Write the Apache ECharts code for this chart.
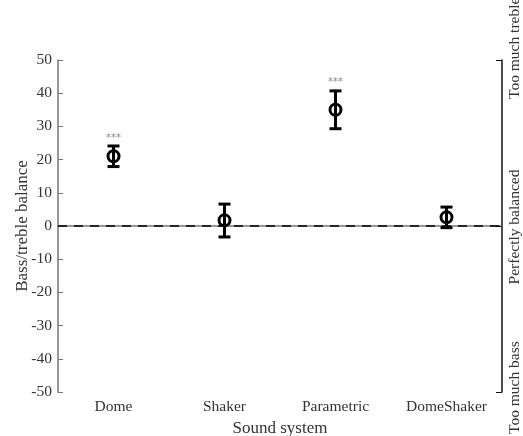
<!DOCTYPE html>
<html>
<head>
<meta charset="utf-8">
<script src="https://cdn.jsdelivr.net/npm/echarts@6/dist/echarts.min.js"></script>
<style>
  html, body { margin: 0; padding: 0; background: #fff; }
  #chart { width: 523px; height: 436px; }
</style>
</head>
<body>
<div id="chart"></div>
<script>
// data
var systems = ['Dome', 'Shaker', 'Parametric', 'DomeShaker'];
var means = [21, 1.7, 35, 2.6];
var lowErr = [17.9, -3.3, 29.3, -0.5];
var highErr = [24.1, 6.6, 40.7, 5.7];
var stars = ['***', '', '***', ''];
var sideLabels = ['Too much treble', 'Perfectly balanced', 'Too much bass'];

var font = 'Liberation Serif';
var txtColor = '#333';

var rows = [];
for (var i = 0; i < systems.length; i++) {
  rows.push([i, means[i], lowErr[i], highErr[i], stars[i]]);
}

var chart = echarts.init(document.getElementById('chart'));

// rotated labels next to the right axis
function sideText(label, y, align) {
  return {
    type: 'text', rotation: Math.PI / 2, x: 515, y: y,
    style: { text: label, font: '15.5px "' + font + '"', fill: txtColor, align: align, verticalAlign: 'middle' }
  };
}

var option = {
  backgroundColor: '#fff',
  animation: false,
  grid: { left: 58, right: 21, top: 60, bottom: 44, outerBoundsMode: 'none', containLabel: false },
  xAxis: {
    type: 'category',
    data: systems,
    boundaryGap: true,
    name: 'Sound system',
    nameLocation: 'middle',
    nameGap: 25,
    nameTextStyle: { fontFamily: font, fontSize: 17, color: txtColor },
    axisLine: { lineStyle: { color: '#777', width: 1.5 } },
    axisTick: { inside: true, alignWithLabel: true, length: 5, lineStyle: { color: '#777' } },
    axisLabel: { fontFamily: font, fontSize: 15.5, color: txtColor, margin: 7 },
    splitLine: { show: false }
  },
  yAxis: [{
    type: 'value',
    min: -50,
    max: 50,
    interval: 10,
    name: 'Bass/treble balance',
    nameLocation: 'middle',
    nameGap: 27,
    nameMoveOverlap: false,
    nameTextStyle: { fontFamily: font, fontSize: 17, color: txtColor },
    axisLine: { show: true, lineStyle: { color: '#777', width: 1.5 } },
    axisTick: { show: true, inside: true, length: 5, lineStyle: { color: '#777' } },
    axisLabel: { fontFamily: font, fontSize: 15.5, color: txtColor, margin: 6 },
    splitLine: { show: false }
  }, {
    type: 'value',
    position: 'right',
    min: -50,
    max: 50,
    interval: 50,
    axisLine: { show: true, lineStyle: { color: '#111', width: 1.5 } },
    axisTick: { show: true, inside: true, length: 6, lineStyle: { color: '#111' } },
    axisLabel: { show: false },
    splitLine: { show: false }
  }],
  graphic: [
    sideText(sideLabels[0], 99, 'left'),
    sideText(sideLabels[1], 227, 'center'),
    sideText(sideLabels[2], 434, 'left')
  ],
  series: [{
    type: 'custom',
    data: rows,
    encode: { x: 0, y: [1, 2, 3] },
    renderItem: function (params, api) {
      var idx = api.value(0);
      var mid = api.coord([idx, api.value(1)]);
      var lo = api.coord([idx, api.value(2)]);
      var hi = api.coord([idx, api.value(3)]);
      var capW = 6;
      var st = { stroke: '#000', lineWidth: 3, fill: null };
      var children = [
        { type: 'line', shape: { x1: hi[0], y1: hi[1], x2: lo[0], y2: lo[1] }, style: st },
        { type: 'line', shape: { x1: hi[0] - capW, y1: hi[1], x2: hi[0] + capW, y2: hi[1] }, style: st },
        { type: 'line', shape: { x1: lo[0] - capW, y1: lo[1], x2: lo[0] + capW, y2: lo[1] }, style: st },
        { type: 'circle', shape: { cx: mid[0], cy: mid[1], r: 5.5 }, style: { stroke: '#000', lineWidth: 3, fill: 'none' } }
      ];
      var s = rows[params.dataIndex][4];
      if (s) {
        children.push({
          type: 'text',
          style: { text: s, x: hi[0], y: hi[1] - 3, align: 'center', verticalAlign: 'bottom',
                   font: '10px "DejaVu Sans"', fill: '#888' }
        });
      }
      return { type: 'group', children: children };
    },
    markLine: {
      silent: true,
      symbol: 'none',
      label: { show: false },
      lineStyle: { color: '#000', type: [9, 7], width: 1.5 },
      data: [{ yAxis: 0 }]
    },
    z: 3
  }]
};

chart.setOption(option);
</script>
</body>
</html>
